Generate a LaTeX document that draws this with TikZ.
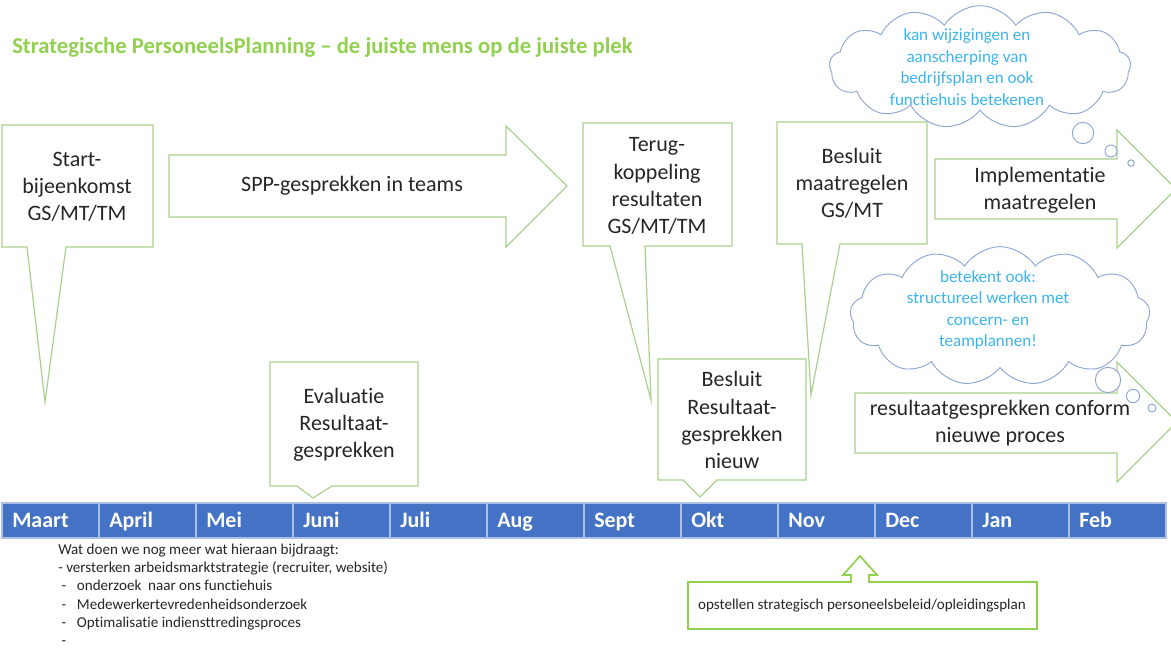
\documentclass[tikz,border=0pt]{standalone}
\usepackage{fontspec}
\setmainfont{Carlito}[Ligatures=NoCommon]
\usetikzlibrary{shapes.symbols}
\definecolor{calgreen}{HTML}{A9D18E}
\definecolor{brgreen}{HTML}{92D050}
\definecolor{tlblue}{HTML}{4472C4}
\definecolor{cloudline}{HTML}{8EA6D6}
\definecolor{cloudtext}{HTML}{3DB5EC}
\definecolor{txtgray}{HTML}{262626}
\begin{document}
\begin{tikzpicture}[x=0.75pt,y=-0.75pt,
  shapeline/.style={draw=calgreen,line width=0.9pt,fill=white,line join=miter},
  boxtext/.style={align=center,text=txtgray,font=\fontsize{16.5}{20.3}\selectfont,inner sep=0pt},
  cloudbox/.style={cloud,cloud puffs=13,cloud puff arc=115,cloud ignores aspect,draw=cloudline,line width=0.7pt,fill=white,inner sep=0pt},
  cloudtxt/.style={align=center,text=cloudtext,font=\fontsize{12.8}{16.2}\selectfont,inner sep=0pt},
  bubble/.style={draw=cloudline,line width=0.7pt,fill=white},
  cell/.style={draw=white!55!tlblue,line width=0.8pt,fill=tlblue},
  monthtxt/.style={text=white,font=\bfseries\fontsize{16.5}{18}\selectfont,inner sep=0pt,anchor=base west}]
\clip (0,0) rectangle (1171,648);
\fill[white] (0,0) rectangle (1171,648);

% title
\node[anchor=west,inner sep=0pt,text=brgreen,font=\bfseries\fontsize{17}{20}\selectfont] (title) at (12,47) {Strategische PersoneelsPlanning -- de juiste mens op de juiste plek};

% Start callout
\draw[shapeline] (2,125) -- (153,125) -- (153,247) -- (66,247) -- (45,402) -- (27,247) -- (2,247) -- cycle;
\node[boxtext] (start) at (77,187) {Start-\\bijeenkomst\\GS/MT/TM};

% SPP arrow
\draw[shapeline] (169,155) -- (506,155) -- (506,126) -- (567,186) -- (506,247) -- (506,217) -- (169,217) -- cycle;
\node[boxtext] (spp) at (352,186) {SPP-gesprekken in teams};

% Terugkoppeling callout
\draw[shapeline] (583,123) -- (732,123) -- (732,246) -- (645,246) -- (651,400) -- (610,246) -- (583,246) -- cycle;
\node[boxtext] (terug) at (657,186) {Terug-\\koppeling\\resultaten\\GS/MT/TM};

% Besluit maatregelen callout
\draw[shapeline] (777,122) -- (927,122) -- (927,244) -- (840,244) -- (811,395) -- (802,244) -- (777,244) -- cycle;
\node[boxtext] (maatr) at (852,183) {Besluit\\maatregelen\\GS/MT};

% Evaluatie callout
\draw[shapeline] (270,362) -- (418,362) -- (418,486) -- (332,486) -- (313,498) -- (297,486) -- (270,486) -- cycle;
\node[boxtext] (eval) at (344,425) {Evaluatie\\Resultaat-\\gesprekken};

% Besluit Resultaatgesprekken callout
\draw[shapeline] (658,359) -- (806,359) -- (806,480) -- (717,480) -- (700,497) -- (683,480) -- (658,480) -- cycle;
\node[boxtext] (besres) at (732,420) {Besluit\\Resultaat-\\gesprekken\\nieuw};

% Implementatie arrow
\draw[shapeline] (935,159) -- (1117,159) -- (1117,130) -- (1176,189) -- (1117,248) -- (1117,219) -- (935,219) -- cycle;
\node[boxtext] (impl) at (1040,190) {Implementatie\\maatregelen};

% Resultaatgesprekken arrow
\draw[shapeline] (855,393) -- (1117,393) -- (1117,362) -- (1177,422) -- (1117,482) -- (1117,453) -- (855,453) -- cycle;

% cloud 1
\node[cloudbox,minimum width=226pt,minimum height=92pt] (cloud1) at (980,67) {};
\node[cloudtxt] (c1txt) at (967,67) {kan wijzigingen en\\aanscherping van\\bedrijfsplan en ook\\functiehuis betekenen};
\draw[bubble] (1083,133) circle[radius=8pt];
\draw[bubble] (1111,151) circle[radius=4.5pt];
\draw[bubble] (1131,163) circle[radius=2.4pt];

% cloud 2
\node[cloudbox,minimum width=225pt,minimum height=104pt] (cloud2) at (1000,316) {};
\node[cloudtxt] (c2txt) at (988,310) {betekent ook:\\structureel werken met\\concern- en\\teamplannen!};
\draw[bubble] (1108,380) circle[radius=9.5pt];
\draw[bubble] (1133,396) circle[radius=5pt];
\draw[bubble] (1152,408) circle[radius=3pt];

\node[boxtext] (resarr) at (1000,423) {resultaatgesprekken conform\\nieuwe proces};

% timeline
\foreach \m [count=\i from 0] in {Maart,April,Mei,Juni,Juli,Aug,Sept,Okt,Nov,Dec,Jan,Feb}{
  \draw[cell] ({2+97*\i},503) rectangle ({2+97*(\i+1)},538);
  \node[monthtxt] (m\i) at ({12+97*\i},527) {\m};
}

% bottom text
\node[anchor=north west,align=left,inner sep=0pt,text=txtgray,font=\fontsize{11.3}{13.6}\selectfont] (extra) at (58,544) {Wat doen we nog meer wat hieraan bijdraagt:\\
- versterken arbeidsmarktstrategie (recruiter, website)\\
\makebox[14pt][l]{\ -}onderzoek\ \ naar ons functiehuis\\
\makebox[14pt][l]{\ -}Medewerkertevredenheidsonderzoek\\
\makebox[14pt][l]{\ -}Optimalisatie indiensttredingsproces\\
\ -};

% opstellen box with up arrow
\draw[draw=brgreen,line width=1.3pt,fill=white,line join=miter] (688,582) -- (851,582) -- (851,575) -- (843,575) -- (860,556) -- (877,575) -- (869,575) -- (869,582) -- (1037,582) -- (1037,629) -- (688,629) -- cycle;
\node[inner sep=0pt,text=txtgray,font=\fontsize{11.3}{13}\selectfont] (opst) at (862,606) {opstellen strategisch personeelsbeleid/opleidingsplan};
\end{tikzpicture}
\end{document}
